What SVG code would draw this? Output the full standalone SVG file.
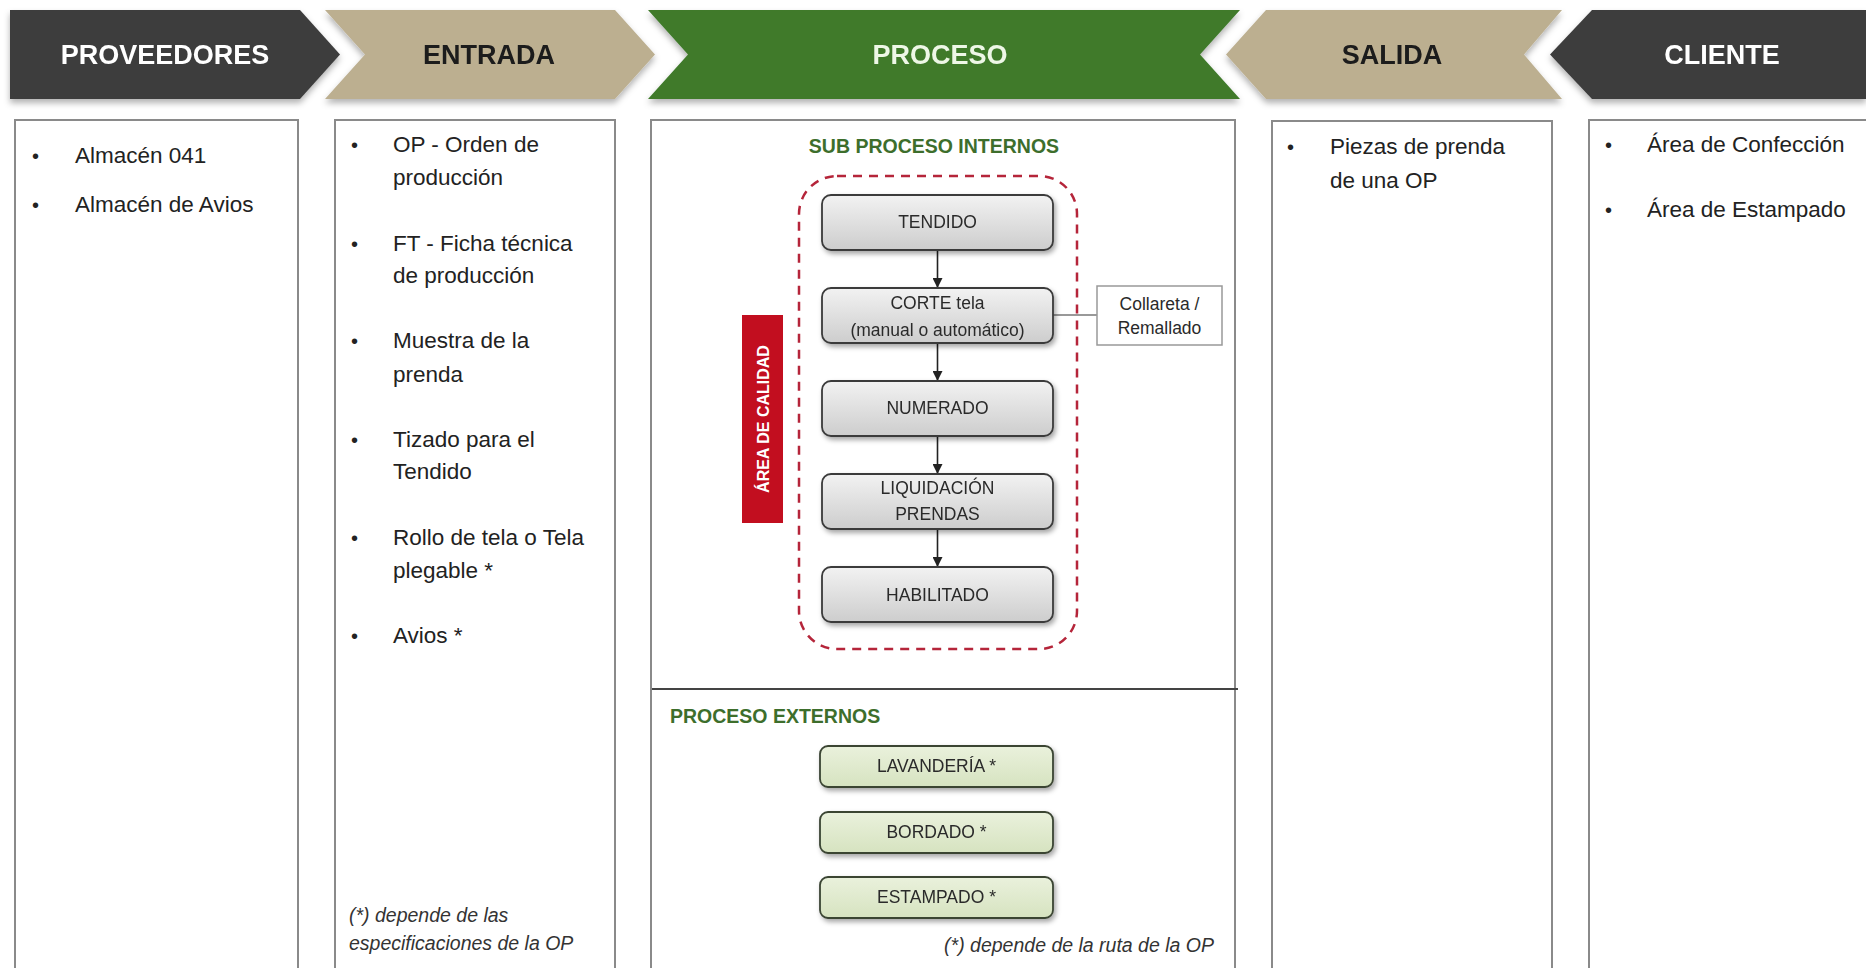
<svg xmlns="http://www.w3.org/2000/svg" width="1866" height="968" viewBox="0 0 1866 968">
<defs>
  <filter id="sh" x="-10%" y="-10%" width="130%" height="140%">
    <feDropShadow dx="2" dy="3" stdDeviation="2.5" flood-color="#000" flood-opacity="0.35"/>
  </filter>
  <filter id="bsh" x="-5%" y="-5%" width="110%" height="130%">
    <feDropShadow dx="0" dy="4" stdDeviation="3" flood-color="#000" flood-opacity="0.3"/>
  </filter>
  <linearGradient id="gray" x1="0" y1="0" x2="0" y2="1">
    <stop offset="0" stop-color="#f2f2f2"/>
    <stop offset="1" stop-color="#cdcdcd"/>
  </linearGradient>
  <linearGradient id="green" x1="0" y1="0" x2="0" y2="1">
    <stop offset="0" stop-color="#eaf1dc"/>
    <stop offset="1" stop-color="#d6e3c0"/>
  </linearGradient>
  <marker id="arr" viewBox="0 0 10 10" refX="9" refY="5" markerWidth="10" markerHeight="10" orient="auto" markerUnits="userSpaceOnUse">
    <path d="M0,0 L10,5 L0,10 z" fill="#222"/>
  </marker>
  <style>
    text { font-family: "Liberation Sans", Arial, sans-serif; }
    .ban { font-size: 27px; font-weight: bold; text-anchor: middle; }
    .col { fill: #fff; stroke: #8a8a8a; stroke-width: 2; }
    .li { font-size: 22.5px; fill: #222; }
    .bul { font-size: 20px; fill: #222; }
    .foot { font-size: 19.5px; font-style: italic; fill: #333; }
    .pbox { fill: url(#gray); stroke: #3a3a3a; stroke-width: 1.8; }
    .gbox { fill: url(#green); stroke: #3a4433; stroke-width: 1.8; }
    .pt { font-size: 17.5px; fill: #2a2a2a; text-anchor: middle; }
    .hdr { font-size: 19.5px; font-weight: bold; fill: #3d6e2c; }
    .conn { stroke: #222; stroke-width: 1.6; fill: none; }
  </style>
</defs>
<rect width="1866" height="968" fill="#fff"/>

<!-- Banners -->
<g id="banner-proveedores" filter="url(#bsh)">
  <polygon points="10,10 300,10 340,54.5 300,99 10,99" fill="#3d3d3d"/>
  <text class="ban" x="165" y="64" fill="#fff">PROVEEDORES</text>
</g>
<g id="banner-entrada" filter="url(#bsh)">
  <polygon points="325,10 615,10 655,54.5 615,99 325,99 365,54.5" fill="#bcaf90"/>
  <text class="ban" x="489" y="64" fill="#1a1a1a">ENTRADA</text>
</g>
<g id="banner-proceso" filter="url(#bsh)">
  <polygon points="648,10 1240,10 1200,54.5 1240,99 648,99 688,54.5" fill="#3f7a2c"/>
  <text class="ban" x="940" y="64" fill="#eef7e6">PROCESO</text>
</g>
<g id="banner-salida" filter="url(#bsh)">
  <polygon points="1226,54.5 1266,10 1562,10 1524,54.5 1562,99 1266,99" fill="#bcaf90"/>
  <text class="ban" x="1392" y="64" fill="#1a1a1a">SALIDA</text>
</g>
<g id="banner-cliente" filter="url(#bsh)">
  <polygon points="1550,54.5 1592,10 1866,10 1866,99 1592,99" fill="#3d3d3d"/>
  <text class="ban" x="1722" y="64" fill="#fff">CLIENTE</text>
</g>

<!-- Column: Proveedores -->
<g id="col-proveedores">
  <rect class="col" x="15" y="120" width="283" height="870"/>
  <text class="bul" x="32" y="163">•</text>
  <text class="li" x="75" y="163">Almacén 041</text>
  <text class="bul" x="32" y="212">•</text>
  <text class="li" x="75" y="212">Almacén de Avios</text>
</g>

<!-- Column: Entrada -->
<g id="col-entrada">
  <rect class="col" x="335" y="120" width="280" height="870"/>
  <text class="bul" x="351" y="152">•</text>
  <text class="li" x="393" y="152">OP - Orden de</text>
  <text class="li" x="393" y="185">producción</text>
  <text class="bul" x="351" y="251">•</text>
  <text class="li" x="393" y="251">FT - Ficha técnica</text>
  <text class="li" x="393" y="283">de producción</text>
  <text class="bul" x="351" y="348">•</text>
  <text class="li" x="393" y="348">Muestra de la</text>
  <text class="li" x="393" y="382">prenda</text>
  <text class="bul" x="351" y="447">•</text>
  <text class="li" x="393" y="447">Tizado para el</text>
  <text class="li" x="393" y="479">Tendido</text>
  <text class="bul" x="351" y="545">•</text>
  <text class="li" x="393" y="545">Rollo de tela o Tela</text>
  <text class="li" x="393" y="578">plegable *</text>
  <text class="bul" x="351" y="643">•</text>
  <text class="li" x="393" y="643">Avios *</text>
  <text class="foot" x="349" y="922">(*) depende de las</text>
  <text class="foot" x="349" y="950">especificaciones de la OP</text>
</g>

<!-- Column: Proceso -->
<g id="col-proceso">
  <rect class="col" x="651" y="120" width="584" height="870"/>
  <line x1="652" y1="689" x2="1238" y2="689" stroke="#444" stroke-width="2"/>
  <text class="hdr" x="934" y="153" text-anchor="middle">SUB PROCESO INTERNOS</text>
  <text class="hdr" x="670" y="723">PROCESO EXTERNOS</text>
  <text class="foot" x="1214" y="952" text-anchor="end" font-size="19.7">(*) depende de la ruta de la OP</text>
</g>

<g id="grp-internos">
  <rect x="799" y="176" width="278" height="473" rx="38" fill="none" stroke="#b5253a" stroke-width="2.5" stroke-dasharray="9 7"/>
</g>

<g id="area-calidad">
  <rect x="742" y="315" width="41" height="208" fill="#c20e1f"/>
  <text transform="translate(762.5,419) rotate(-90)" x="0" y="6" font-size="16" font-weight="bold" fill="#fff" text-anchor="middle">ÁREA DE CALIDAD</text>
</g>

<!-- Connectors -->
<g id="connectors">
  <line class="conn" x1="937.5" y1="250" x2="937.5" y2="287" marker-end="url(#arr)"/>
  <line class="conn" x1="937.5" y1="343" x2="937.5" y2="380" marker-end="url(#arr)"/>
  <line class="conn" x1="937.5" y1="436" x2="937.5" y2="473" marker-end="url(#arr)"/>
  <line class="conn" x1="937.5" y1="529" x2="937.5" y2="566" marker-end="url(#arr)"/>
  <line x1="1053" y1="315" x2="1097" y2="315" stroke="#777" stroke-width="1.5"/>
</g>

<!-- Internal process nodes -->
<g id="node-tendido" filter="url(#sh)">
  <rect class="pbox" x="822" y="195" width="231" height="55" rx="9"/>
  <text class="pt" x="937.5" y="228">TENDIDO</text>
</g>
<g id="node-corte" filter="url(#sh)">
  <rect class="pbox" x="822" y="288" width="231" height="55" rx="9"/>
  <text class="pt" x="937.5" y="309">CORTE tela</text>
  <text class="pt" x="937.5" y="336">(manual o automático)</text>
</g>
<g id="node-numerado" filter="url(#sh)">
  <rect class="pbox" x="822" y="381" width="231" height="55" rx="9"/>
  <text class="pt" x="937.5" y="414">NUMERADO</text>
</g>
<g id="node-liquidacion" filter="url(#sh)">
  <rect class="pbox" x="822" y="474" width="231" height="55" rx="9"/>
  <text class="pt" x="937.5" y="494">LIQUIDACIÓN</text>
  <text class="pt" x="937.5" y="520">PRENDAS</text>
</g>
<g id="node-habilitado" filter="url(#sh)">
  <rect class="pbox" x="822" y="567" width="231" height="55" rx="9"/>
  <text class="pt" x="937.5" y="601">HABILITADO</text>
</g>

<g id="node-collareta">
  <rect x="1097" y="286" width="125" height="59" fill="#fff" stroke="#999" stroke-width="1.5"/>
  <text class="pt" x="1159.5" y="310" font-size="18.5">Collareta /</text>
  <text class="pt" x="1159.5" y="334" font-size="18.5">Remallado</text>
</g>

<!-- External process nodes -->
<g id="node-lavanderia" filter="url(#sh)">
  <rect class="gbox" x="820" y="746" width="233" height="41" rx="8"/>
  <text class="pt" x="936.5" y="772">LAVANDERÍA *</text>
</g>
<g id="node-bordado" filter="url(#sh)">
  <rect class="gbox" x="820" y="812" width="233" height="41" rx="8"/>
  <text class="pt" x="936.5" y="838">BORDADO *</text>
</g>
<g id="node-estampado" filter="url(#sh)">
  <rect class="gbox" x="820" y="877" width="233" height="41" rx="8"/>
  <text class="pt" x="936.5" y="903">ESTAMPADO *</text>
</g>

<!-- Column: Salida -->
<g id="col-salida">
  <rect class="col" x="1272" y="121" width="280" height="870"/>
  <text class="bul" x="1287" y="154">•</text>
  <text class="li" x="1330" y="154">Piezas de prenda</text>
  <text class="li" x="1330" y="188">de una OP</text>
</g>

<!-- Column: Cliente -->
<g id="col-cliente">
  <rect class="col" x="1589" y="120" width="300" height="870"/>
  <text class="bul" x="1605" y="152">•</text>
  <text class="li" x="1647" y="152">Área de Confección</text>
  <text class="bul" x="1605" y="217">•</text>
  <text class="li" x="1647" y="217">Área de Estampado</text>
</g>
</svg>
